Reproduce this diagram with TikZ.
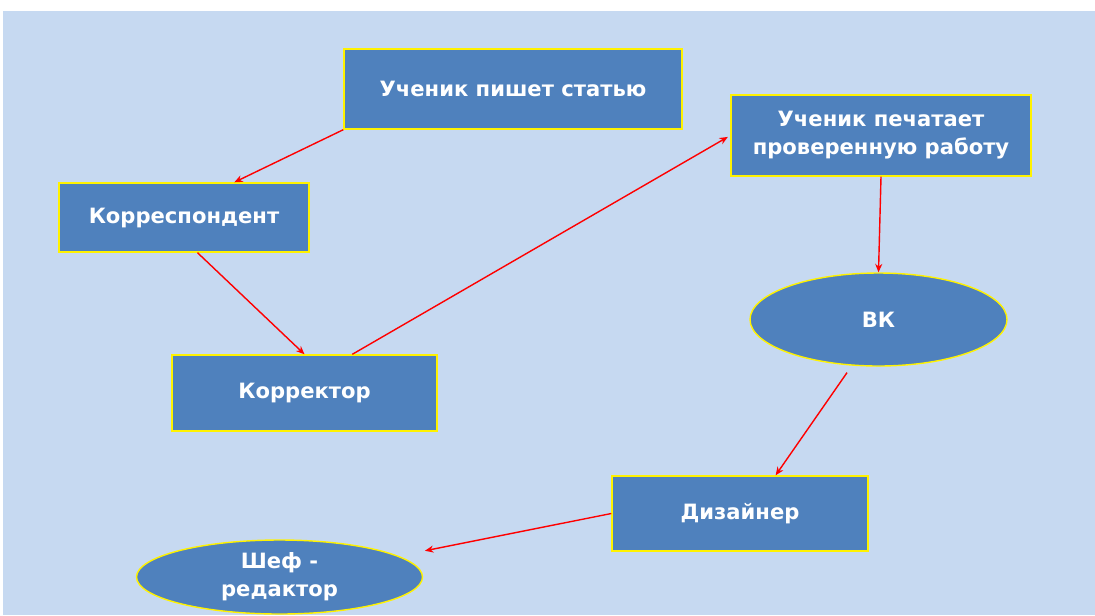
\documentclass[tikz,border=0pt]{standalone}
\usepackage{fontspec}
\setmainfont{DejaVu Sans}
\usetikzlibrary{shapes.geometric,arrows.meta}
\definecolor{bgblue}{HTML}{C6D9F1}
\definecolor{boxblue}{HTML}{4F81BD}

\begin{document}
\begin{tikzpicture}[
  box/.style={draw=yellow, line width=1pt, fill=boxblue, text=white,
    font=\bfseries\fontsize{15}{20}\selectfont, align=center, inner sep=0pt},
  oval/.style={box, ellipse},
  link/.style={color=red, line width=1pt, -{Stealth[length=6pt, width=5pt]}}]
  \useasboundingbox (0,0) rectangle (27.375,-15.375);
  \fill[bgblue] (0.075,-0.275) rectangle (27.375,-15.375);

  \node[box, minimum width=8.45cm, minimum height=2cm] (write) at (12.825,-2.225) {Ученик пишет статью};
  \node[box, minimum width=7.5cm, minimum height=2.025cm] (print) at (22.025,-3.3875) {Ученик печатает\\проверенную работу};
  \node[box, minimum width=6.25cm, minimum height=1.725cm] (corresp) at (4.6,-5.4375) {Корреспондент};
  \node[box, minimum width=6.625cm, minimum height=1.9cm] (proof) at (7.6125,-9.825) {Корректор};
  \node[oval, minimum width=6.425cm, minimum height=2.325cm] (vk) at (21.9625,-7.9875) {ВК};
  \node[box, minimum width=6.4cm, minimum height=1.875cm] (design) at (18.5,-12.8375) {Дизайнер};
  \node[oval, minimum width=7.15cm, minimum height=1.85cm] (chief) at (6.9875,-14.425) {Шеф -\\редактор};

  \draw[link] (write.south west) -- (corresp.35);
  \draw[link] (corresp.-69) -- (proof.north);
  \draw[link, shorten >=2pt] (proof.39) -- (print.west);
  \draw[link] (print.south) -- (vk.north);
  \draw[link, shorten <=6pt] (vk.-120) -- (design.47);
  \draw[link, shorten >=19pt] (design.west) -- (chief.10);
\end{tikzpicture}
\end{document}
